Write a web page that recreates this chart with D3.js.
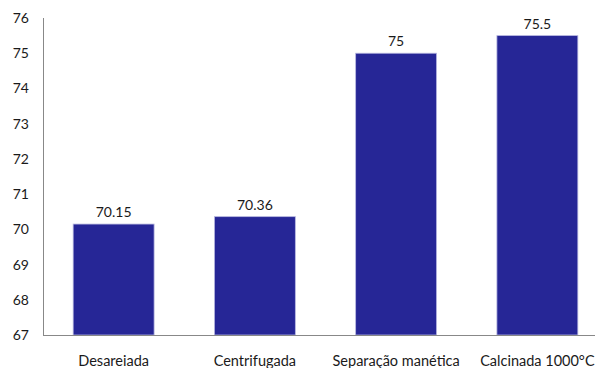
<!DOCTYPE html>
<html><head><meta charset="utf-8">
<script src="https://cdn.jsdelivr.net/npm/d3@7"></script>
<style>body{margin:0;background:#fff}svg{display:block}text{font-family:Lato,"Open Sans",sans-serif;fill:#1a1a1a}</style>
</head><body>
<script>
const categories = ["Desareiada","Centrifugada","Separação manética","Calcinada 1000°C"];
const values = [70.15, 70.36, 75, 75.5];
const valueLabels = ["70.15","70.36","75","75.5"];
const yTicks = [67,68,69,70,71,72,73,74,75,76];

const W=595,H=368;
const svg=d3.select("body").append("svg").attr("width",W).attr("height",H);
const x=d3.scaleBand().domain(categories).range([43,608]).paddingInner(0.427).paddingOuter(0.2135);
const y=d3.scaleLinear().domain([67,76]).range([335,18]);

svg.selectAll("rect.bar").data(values).join("rect")
  .attr("x",(d,i)=>x(categories[i])).attr("width",x.bandwidth())
  .attr("y",d=>y(d)).attr("height",d=>y(67)-y(d))
  .attr("fill","#262696").attr("stroke","#b8b8e0").attr("stroke-width",0.8);

svg.append("line").attr("x1",43.5).attr("x2",43.5).attr("y1",18).attr("y2",335).attr("stroke","#888");
svg.append("line").attr("x1",43).attr("x2",W).attr("y1",335.5).attr("y2",335.5).attr("stroke","#888");

svg.selectAll("text.yt").data(yTicks).join("text")
  .attr("x",29).attr("y",d=>y(d)+5).attr("text-anchor","end").attr("font-size",14).text(d=>d);

svg.selectAll("text.vl").data(values).join("text")
  .attr("x",(d,i)=>x(categories[i])+x.bandwidth()/2).attr("y",d=>y(d)-7)
  .attr("text-anchor","middle").attr("font-size",14).text((d,i)=>valueLabels[i]);

svg.selectAll("text.xl").data(categories).join("text")
  .attr("x",d=>x(d)+x.bandwidth()/2).attr("y",366)
  .attr("text-anchor","middle").attr("font-size",14.5).text(d=>d);
</script>
</body></html>
